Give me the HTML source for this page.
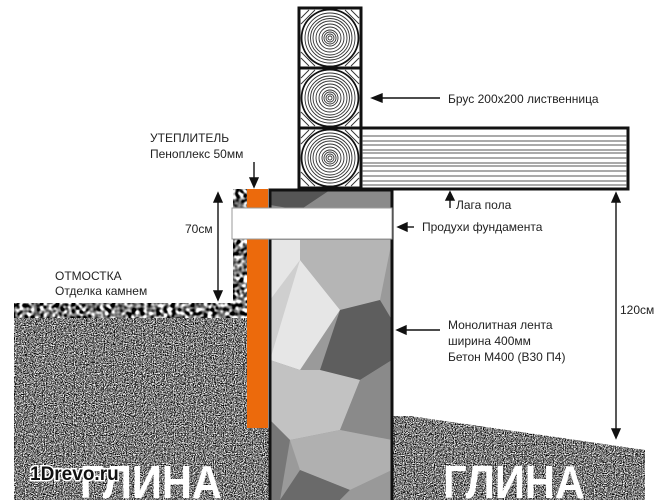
<!DOCTYPE html>
<html><head><meta charset="utf-8"><style>
html,body{margin:0;padding:0;background:#fff;width:670px;height:500px;overflow:hidden}
svg text{font-family:"Liberation Sans",sans-serif;fill:#222}
</style></head><body>
<svg width="670" height="500" viewBox="0 0 670 500" xmlns="http://www.w3.org/2000/svg">
<defs>
<filter id="grav" x="0" y="0" width="100%" height="100%" color-interpolation-filters="sRGB">
<feTurbulence type="fractalNoise" baseFrequency="0.9" numOctaves="2" seed="3" result="n"/>
<feColorMatrix in="n" type="matrix" values="0.33 0.33 0.33 0 0  0.33 0.33 0.33 0 0  0.33 0.33 0.33 0 0  0 0 0 0 1" result="g"/>
<feComponentTransfer in="g"><feFuncR type="linear" slope="5" intercept="-2"/><feFuncG type="linear" slope="5" intercept="-2"/><feFuncB type="linear" slope="5" intercept="-2"/></feComponentTransfer>
</filter>
<filter id="stone" x="0" y="0" width="100%" height="100%" color-interpolation-filters="sRGB">
<feTurbulence type="fractalNoise" baseFrequency="0.25" numOctaves="1" seed="7" result="n"/>
<feColorMatrix in="n" type="matrix" values="0.33 0.33 0.33 0 0  0.33 0.33 0.33 0 0  0.33 0.33 0.33 0 0  0 0 0 0 1" result="g"/>
<feComponentTransfer in="g"><feFuncR type="linear" slope="6" intercept="-2.5"/><feFuncG type="linear" slope="6" intercept="-2.5"/><feFuncB type="linear" slope="6" intercept="-2.5"/></feComponentTransfer>
</filter>
<clipPath id="gl"><polygon points="14,303 233,303 233,189 247,189 247,428 270,428 270,500 14,500"/></clipPath>
<clipPath id="gr"><polygon points="392,416 410,416 645,450 645,500 392,500"/></clipPath>
<clipPath id="st"><polygon points="14,303 233,303 233,189 247,189 247,318 14,318"/></clipPath>
<clipPath id="fd"><rect x="270" y="190" width="122" height="310"/></clipPath>
<g id="log">
<rect x="0" y="0" width="62" height="60" fill="#fff" stroke="#111" stroke-width="3"/>
<g fill="none" stroke="#333" stroke-width="0.9">
<circle cx="31" cy="30" r="28"/><circle cx="31" cy="30" r="25"/><circle cx="31" cy="30" r="22"/><circle cx="31" cy="30" r="19.5"/><circle cx="31" cy="30" r="17"/><circle cx="31" cy="30" r="14"/><circle cx="31" cy="30" r="11"/><circle cx="31" cy="30" r="8"/><circle cx="31" cy="30" r="6"/><circle cx="31" cy="30" r="4"/><circle cx="31" cy="30" r="2"/>
<path d="M2 10 L10 2 M2 16 L16 2 M46 2 L60 16 M52 2 L60 10 M2 44 L16 58 M2 50 L10 58 M60 44 L46 58 M60 50 L52 58"/>
</g>
<circle cx="31" cy="30" r="28.5" fill="none" stroke="#111" stroke-width="1.6"/>
</g>
</defs>

<g clip-path="url(#gl)"><rect x="14" y="189" width="256" height="311" filter="url(#grav)"/></g>
<g clip-path="url(#st)"><rect x="14" y="189" width="234" height="130" filter="url(#stone)"/></g>
<g clip-path="url(#gr)"><rect x="392" y="416" width="253" height="84" filter="url(#grav)"/></g>

<g clip-path="url(#fd)">
<rect x="270" y="190" width="122" height="310" fill="#9a9a9a"/>
<polygon points="270,190 392,190 392,240 270,240" fill="#8a8a8a"/>
<polygon points="270,190 330,190 300,210 270,205" fill="#555"/>
<polygon points="300,240 392,240 380,300 340,310 300,260" fill="#b5b5b5"/>
<polygon points="270,240 300,240 300,260 340,310 300,370 270,360" fill="#e6e6e6"/>
<polygon points="300,260 270,300 270,360" fill="#cfcfcf"/>
<polygon points="340,310 380,300 392,320 392,360 360,380 320,370" fill="#5e5e5e"/>
<polygon points="300,370 320,370 360,380 340,430 290,440 270,420 270,360" fill="#c2c2c2"/>
<polygon points="360,380 392,360 392,440 340,430" fill="#8a8a8a"/>
<polygon points="270,420 290,440 280,500 270,500" fill="#777"/>
<polygon points="290,440 340,430 392,440 392,470 350,490 300,470" fill="#b0b0b0"/>
<polygon points="300,470 350,490 340,500 280,500" fill="#6a6a6a"/>
<polygon points="350,490 392,470 392,500 340,500" fill="#999"/>
</g>
<rect x="270" y="190" width="122" height="312" fill="none" stroke="#111" stroke-width="3"/>
<rect x="247" y="189" width="21" height="239" fill="#ec6a0c"/>
<rect x="232" y="208" width="160" height="31" fill="#fff" stroke="#999" stroke-width="1"/>

<use href="#log" x="299" y="8"/>
<use href="#log" x="299" y="68"/>
<use href="#log" x="299" y="128"/>
<rect x="361" y="128" width="267" height="61" fill="#fff" stroke="#111" stroke-width="3"/>
<g stroke="#555" stroke-width="1">
<line x1="362" y1="136" x2="627" y2="136"/><line x1="362" y1="141" x2="627" y2="141"/><line x1="362" y1="145" x2="627" y2="145"/><line x1="362" y1="150" x2="627" y2="150"/><line x1="362" y1="153" x2="627" y2="153"/><line x1="362" y1="158" x2="627" y2="158"/><line x1="362" y1="163" x2="627" y2="163"/><line x1="362" y1="166" x2="627" y2="166"/><line x1="362" y1="171" x2="627" y2="171"/><line x1="362" y1="176" x2="627" y2="176"/><line x1="362" y1="181" x2="627" y2="181"/><line x1="362" y1="185" x2="627" y2="185"/>
</g>

<g stroke="#111" stroke-width="1.4" fill="#111">
<line x1="380" y1="98" x2="440" y2="98"/><polygon points="372,98 382,94 382,102"/>
<line x1="254" y1="162" x2="254" y2="180"/><polygon points="254,187 250,178 258,178"/>
<line x1="218" y1="200" x2="218" y2="292"/><polygon points="218,193 214,202 222,202"/><polygon points="218,300 214,291 222,291"/>
<line x1="450" y1="195" x2="450" y2="208"/><polygon points="450,192 446,200 454,200"/>
<line x1="404" y1="227" x2="414" y2="227"/><polygon points="398,227 407,223 407,231"/>
<line x1="404" y1="330" x2="440" y2="330"/><polygon points="397,330 406,326 406,334"/>
<line x1="616" y1="200" x2="616" y2="430"/><polygon points="616,193 612,202 620,202"/><polygon points="616,438 612,429 620,429"/>
</g>

<g font-size="12">
<text x="448" y="103">Брус 200х200 лиственница</text>
<text x="150" y="142">УТЕПЛИТЕЛЬ</text>
<text x="150" y="158">Пеноплекс 50мм</text>
<text x="185" y="233">70см</text>
<text x="55" y="280">ОТМОСТКА</text>
<text x="55" y="295">Отделка камнем</text>
<text x="456" y="209">Лага пола</text>
<text x="422" y="231">Продухи фундамента</text>
<text x="448" y="329">Монолитная лента</text>
<text x="448" y="345">ширина 400мм</text>
<text x="448" y="361">Бетон М400 (В30 П4)</text>
<text x="620" y="314">120см</text>
</g>
<g font-size="46" font-weight="bold">
<text x="80" y="498" style="fill:#fff" textLength="142" lengthAdjust="spacingAndGlyphs">ГЛИНА</text>
<text x="443" y="498" style="fill:#fff" textLength="142" lengthAdjust="spacingAndGlyphs">ГЛИНА</text>
</g>
<text x="30" y="480" font-size="19" font-weight="bold" style="fill:#111;stroke:#fff;stroke-width:3;paint-order:stroke">1Drevo.ru</text>
</svg>
</body></html>
